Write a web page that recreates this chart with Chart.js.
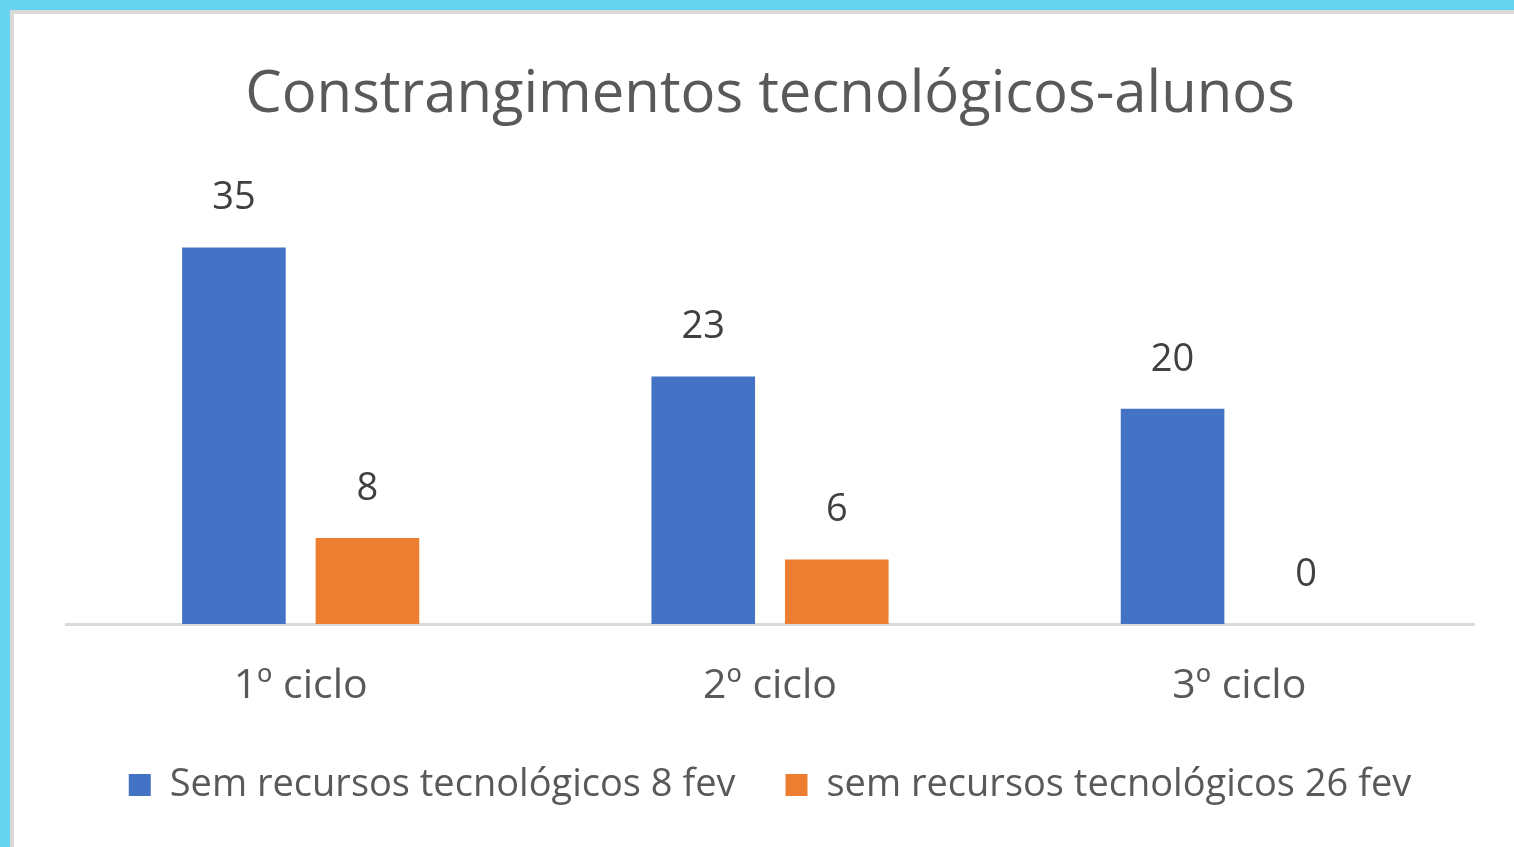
<!DOCTYPE html>
<html>
<head>
<meta charset="utf-8">
<script src="https://cdn.jsdelivr.net/npm/chart.js@4.4.0/dist/chart.umd.min.js"></script>
<style>
  html, body { margin: 0; padding: 0; background: #ffffff; overflow: hidden; }
  .frame {
    position: absolute; left: 0; top: 0; width: 1514px; height: 847px;
    box-sizing: border-box;
    border-top: 10px solid #66d4ef; border-left: 10px solid #66d4ef;
  }
  .inner {
    position: absolute; left: 0; top: 0; right: 0; bottom: 0;
    border-top: 4px solid #d9d9d9; border-left: 4px solid #d9d9d9;
  }
  .chart-wrap { position: absolute; left: 14px; top: 14px; width: 1500px; height: 833px; }
</style>
</head>
<body>
<div class="frame"><div class="inner"></div></div>
<div class="chart-wrap"><canvas id="constrChart"></canvas></div>
<script>
const categories = ['1º ciclo', '2º ciclo', '3º ciclo'];
const semRecursos8fev = [35, 23, 20];
const semRecursos26fev = [8, 6, 0];
const seriesLabels = ['Sem recursos tecnológicos 8 fev', 'sem recursos tecnológicos 26 fev'];
const yMax = 44;

const fontFamily = '"Open Sans", "Noto Sans", sans-serif';
const textGrey = '#595959';

// values written above each bar
const barValues = {
    id: 'barValues',
    afterDatasetsDraw(chart) {
        const ctx = chart.ctx;
        ctx.save();
        ctx.font = '38px ' + fontFamily;
        ctx.fillStyle = '#404040';
        ctx.textAlign = 'center';
        ctx.textBaseline = 'middle';
        chart.data.datasets.forEach((ds, i) => {
            chart.getDatasetMeta(i).data.forEach((bar, j) => {
                ctx.fillText(String(ds.data[j]), bar.x, bar.y - 49);
            });
        });
        ctx.restore();
    }
};

new Chart(document.getElementById('constrChart').getContext('2d'), {
    type: 'bar',
    data: {
        labels: categories,
        datasets: [
            { label: seriesLabels[0], data: semRecursos8fev, backgroundColor: '#4472c4' },
            { label: seriesLabels[1], data: semRecursos26fev, backgroundColor: '#ed7d31' }
        ]
    },
    options: {
        responsive: true, maintainAspectRatio: false, animation: false,
        categoryPercentage: 0.569, barPercentage: 0.776,
        layout: { padding: { left: 52, right: 40, top: 0, bottom: 33 } },
        plugins: {
            title: {
                display: true,
                text: 'Constrangimentos tecnológicos-alunos',
                color: textGrey,
                font: { family: fontFamily, size: 58, weight: 'normal' },
                padding: { top: 47, bottom: 20 }
            },
            legend: {
                position: 'bottom',
                labels: {
                    color: textGrey,
                    font: { family: fontFamily, size: 38 },
                    boxWidth: 22, boxHeight: 22, padding: 50
                }
            },
            tooltip: { enabled: false }
        },
        scales: {
            x: {
                clip: false,
                grid: { display: false, drawTicks: false },
                border: { display: true, color: '#d9d9d9', width: 3 },
                ticks: { color: textGrey, font: { family: fontFamily, size: 41 }, padding: 38 },
                afterFit(scale) { scale.height = 92; }
            },
            y: { display: false, min: 0, max: yMax }
        }
    },
    plugins: [barValues]
});
</script>
</body>
</html>
